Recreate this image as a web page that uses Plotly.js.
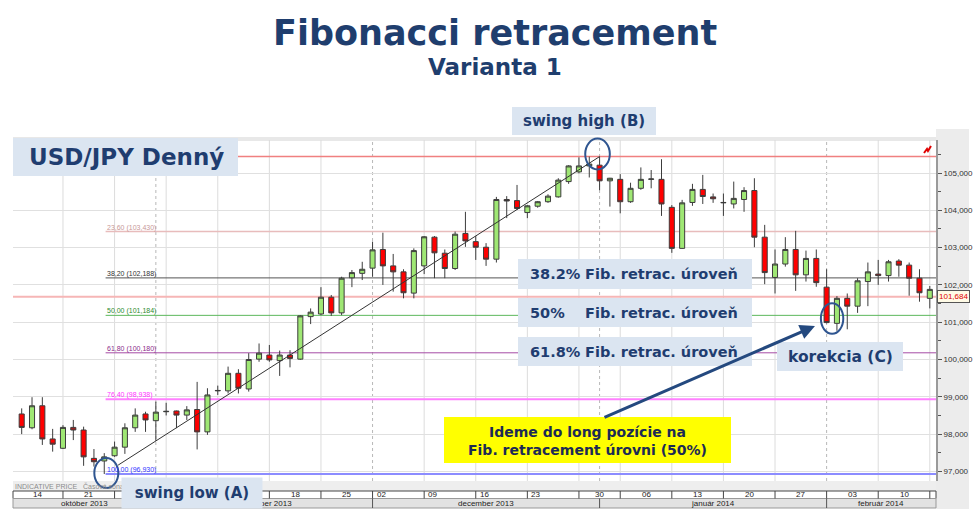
<!DOCTYPE html>
<html><head><meta charset="utf-8">
<script src="https://cdn.plot.ly/plotly-3.0.1.min.js"></script>
<style>html,body{margin:0;padding:0;background:#fff}#chart{width:977px;height:521px}</style>
</head><body><div id="chart"></div>
<script>
// ---------------- DATA ----------------
const dates = [
'2013-10-15','2013-10-16','2013-10-17','2013-10-18',
'2013-10-21','2013-10-22','2013-10-23','2013-10-24','2013-10-25',
'2013-10-28','2013-10-29','2013-10-30','2013-10-31','2013-11-01',
'2013-11-04','2013-11-05','2013-11-06','2013-11-07','2013-11-08',
'2013-11-11','2013-11-12','2013-11-13','2013-11-14','2013-11-15',
'2013-11-18','2013-11-19','2013-11-20','2013-11-21','2013-11-22',
'2013-11-25','2013-11-26','2013-11-27','2013-11-28','2013-11-29',
'2013-12-02','2013-12-03','2013-12-04','2013-12-05','2013-12-06',
'2013-12-09','2013-12-10','2013-12-11','2013-12-12','2013-12-13',
'2013-12-16','2013-12-17','2013-12-18','2013-12-19','2013-12-20',
'2013-12-23','2013-12-24','2013-12-25','2013-12-26','2013-12-27',
'2013-12-30','2013-12-31','2014-01-02','2014-01-03',
'2014-01-06','2014-01-07','2014-01-08','2014-01-09','2014-01-10',
'2014-01-13','2014-01-14','2014-01-15','2014-01-16','2014-01-17',
'2014-01-20','2014-01-21','2014-01-22','2014-01-23','2014-01-24',
'2014-01-27','2014-01-28','2014-01-29','2014-01-30','2014-01-31',
'2014-02-03','2014-02-04','2014-02-05','2014-02-06','2014-02-07',
'2014-02-10','2014-02-11','2014-02-12','2014-02-13','2014-02-14',
'2014-02-17'];

const openP = [
98.54,98.17,98.76,97.87,97.62,98.18,98.11,97.35,97.28,97.42,
97.65,98.17,98.54,98.36,98.60,98.62,98.51,98.66,98.06,99.16,
99.16,99.63,99.21,100.01,100.12,99.97,100.12,100.01,101.15,101.22,
101.67,101.25,102.19,102.31,102.45,102.95,102.51,102.35,101.78,102.51,
103.28,102.85,102.44,103.38,103.16,103.01,102.69,104.29,104.26,103.94,
104.11,104.23,104.36,104.77,105.03,105.19,105.21,104.79,104.83,104.23,
104.59,104.83,104.83,104.08,102.98,104.21,104.56,104.36,104.20,104.17,
104.29,104.53,103.28,102.20,102.56,102.95,102.27,102.71,101.94,100.97,
101.64,101.43,102.09,102.29,102.25,102.64,102.53,102.18,101.64];

const highP = [
98.69,98.99,98.99,98.14,98.24,98.38,98.20,97.60,97.49,97.80,
98.29,98.69,98.60,98.87,98.84,98.63,98.75,99.40,99.23,99.30,
99.81,99.74,100.17,100.43,100.39,100.24,100.25,101.19,101.37,101.94,
101.73,102.22,102.40,102.62,103.16,103.40,102.83,102.42,102.98,103.31,
103.31,102.95,103.43,103.96,103.31,103.12,104.36,104.38,104.68,104.14,
104.25,104.43,104.86,105.21,105.42,105.44,105.44,104.87,104.97,104.74,
105.15,105.08,105.37,104.14,104.28,104.71,104.95,104.45,104.45,104.77,
104.62,104.86,103.61,102.95,103.28,103.45,102.92,102.95,102.42,101.70,
101.77,102.18,102.60,102.67,102.67,102.69,102.60,102.42,101.97];

const lowP = [
98.00,98.13,97.71,97.53,97.60,97.84,97.15,97.13,96.93,97.39,
97.47,98.06,98.06,97.82,98.50,98.16,98.38,97.59,97.98,99.05,
99.09,99.09,99.14,99.94,99.94,99.56,99.79,99.99,100.95,101.19,
101.17,101.19,101.94,102.13,102.22,102.00,101.82,101.64,101.64,102.29,
102.18,102.18,102.40,103.02,102.67,102.51,102.60,103.79,104.01,103.79,
104.07,104.20,104.34,104.71,104.99,104.88,104.54,104.10,103.92,104.20,
104.55,104.59,103.85,102.86,102.97,104.12,104.17,104.20,103.85,104.05,
103.96,103.01,102.02,101.77,102.49,101.84,102.09,101.95,100.97,100.77,
100.81,101.25,101.43,102.00,102.09,102.22,101.71,101.55,101.37];

const closeP = [
98.18,98.76,97.87,97.73,98.18,98.11,97.39,97.26,97.39,97.65,
98.17,98.51,98.38,98.59,98.61,98.51,98.65,98.06,99.05,99.17,
99.63,99.23,100.00,100.17,99.99,100.12,100.03,101.17,101.27,101.67,
101.25,102.18,102.33,102.42,102.94,102.51,102.35,101.79,102.92,103.29,
102.86,102.44,103.36,103.18,103.01,102.69,104.29,104.25,104.05,104.12,
104.23,104.38,104.81,105.19,105.19,105.24,104.79,104.86,104.23,104.59,
104.83,104.84,104.17,102.98,104.20,104.56,104.37,104.31,104.21,104.32,
104.53,103.28,102.33,102.56,102.95,102.27,102.71,102.06,100.99,101.64,
101.43,102.11,102.35,102.25,102.62,102.53,102.18,101.79,101.88];

const fibPct   = [0, 23.6, 38.2, 50, 61.8, 76.4, 100];
const fibPrice = [105.44, 103.430, 102.188, 101.184, 100.180, 98.938, 96.930];
const lastPrice = 101.684;
const swingLowIdx = 8, swingHighIdx = 56, correctionIdx = 79;

const yTickVals = [97, 98, 99, 100, 101, 102, 103, 104, 105];
const dayTicks = ['14','21','28','04','11','18','25','02','09','16','23','30','06','13','20','27','03','10'];
const monthTicks = ['október 2013','november 2013','december 2013','január 2014','február 2014'];

const title = 'Fibonacci retracement';
const subtitle = 'Varianta 1';

// ---------------- STYLE / GEOMETRY ----------------
const X0 = -0.843, X1 = 88.6, Y0 = 96.743, Y1 = 105.885;
const L = 13, R = 936, T = 140, B = 481;
const PX = x => (x - L) / (R - L);
const PY = y => (B - y) / (B - T);
const ix = i => (i - X0) / (X1 - X0);
const iy = p => (p - Y0) / (Y1 - Y0);
const navy = '#1f3d70';
const boxFill = '#dbe5f1';
const fibLineCol = ['#f08080', '#e8bcbc', '#555555', '#5cb85c', '#a64ca6', '#ff80ff', '#8c8cff'];
const fibLineW   = [1.5, 1.5, 1, 1, 1, 2, 2];
const fibTextCol = ['#d06060', '#c89898', '#333333', '#2e8b2e', '#8b2a8b', '#ff33ff', '#3333ff'];
const dayAlign = ['c','c','c','c','c','c','c','l','l','l','l','c','c','c','c','c','c','c'];

// derived from the dates
const dObj = dates.map(d => new Date(d + 'T00:00:00Z'));
const mondays = [], monthStarts = [];
dObj.forEach((d, i) => {
  if (d.getUTCDay() === 1) mondays.push(i);
  if (i > 0 && d.getUTCMonth() !== dObj[i-1].getUTCMonth()) monthStarts.push(i);
});

const shapes = [];
const annotations = [];

// right axis grey panel
shapes.push({type:'rect', xref:'paper', yref:'paper', x0:PX(936), x1:PX(969), y0:PY(509), y1:PY(129),
  fillcolor:'#ececec', line:{width:0}, layer:'below'});
// top shading strip of chart
shapes.push({type:'rect', xref:'paper', yref:'paper', x0:PX(13), x1:PX(936), y0:PY(141), y1:PY(137),
  fillcolor:'#e8e8e8', line:{width:0}, layer:'below'});

// weekly / monthly vertical gridlines
mondays.forEach(i => {
  if (monthStarts.includes(i)) return;
  shapes.push({type:'line', xref:'x', yref:'y', x0:i, x1:i, y0:Y0, y1:Y1, line:{color:'#dcdcdc', width:1}, layer:'below'});
});
monthStarts.forEach(i => {
  shapes.push({type:'line', xref:'x', yref:'y', x0:i, x1:i, y0:Y0, y1:Y1, line:{color:'#b8b8b8', width:1, dash:'dot'}, layer:'below'});
});

// current price line
shapes.push({type:'line', xref:'x', yref:'y', x0:X0, x1:X1, y0:lastPrice, y1:lastPrice, line:{color:'#f6b6b6', width:2}, layer:'below'});

// fibonacci levels
const fibStart = swingLowIdx + 0.13;
fibPct.forEach((p, k) => {
  shapes.push({type:'line', xref:'x', yref:'y', x0:fibStart, x1:X1, y0:fibPrice[k], y1:fibPrice[k],
    line:{color:fibLineCol[k], width:fibLineW[k]}, layer:'below'});
  if (p === 0) return;
  annotations.push({xref:'x', yref:'y', x:fibStart, y:fibPrice[k], xanchor:'left', yanchor:'bottom',
    text: p.toFixed(2).replace('.', ',') + ' (' + fibPrice[k].toFixed(3).replace('.', ',') + ')',
    showarrow:false, font:{family:'Liberation Sans', size:7, color:fibTextCol[k]}, borderpad:0, yshift:-1});
});

// A -> B line (starts at edge of the swing-low circle)
const aI = swingLowIdx, aP = lowP[swingLowIdx], bI = swingHighIdx, bP = highP[swingHighIdx];
const t0 = 0.028;
shapes.push({type:'line', xref:'x', yref:'y', x0:aI + (bI - aI) * t0, y0:aP + (bP - aP) * t0, x1:bI, y1:bP,
  line:{color:'#333', width:1}, layer:'above'});

// circles round the swing points (paper refs so they are not clipped)
function circ(i, p, rx, ry) {
  const cx = ix(i), cy = iy(p), wx = rx / (R - L), wy = ry / (B - T);
  shapes.push({type:'circle', xref:'paper', yref:'paper', x0:cx - wx, x1:cx + wx, y0:cy - wy, y1:cy + wy,
    line:{color:'#2f5590', width:2}, fillcolor:'rgba(0,0,0,0)', layer:'above'});
}
circ(swingLowIdx + 0.2, lowP[swingLowIdx] + 0.03, 12, 15);
circ(swingHighIdx - 0.2, highP[swingHighIdx] + 0.07, 12.3, 15.5);
circ(correctionIdx - 0.47, lowP[correctionIdx] + 0.33, 11.2, 15.3);

// small red marker at top right
shapes.push({type:'path', xref:'paper', yref:'paper', layer:'above',
  path:`M ${PX(924)},${PY(153)} L ${PX(927)},${PY(149)} L ${PX(928)},${PY(151)} L ${PX(931)},${PY(146)}`,
  line:{color:'#e00000', width:2}});

// x-axis strips below the plot
shapes.push({type:'rect', xref:'paper', yref:'paper', x0:PX(13), x1:PX(936), y0:PY(491), y1:PY(481),
  fillcolor:'#eeeeee', line:{width:0}, layer:'below'});
shapes.push({type:'rect', xref:'paper', yref:'paper', x0:PX(13), x1:PX(936), y0:PY(498.5), y1:PY(491),
  fillcolor:'#ffffff', line:{color:'#444', width:1}, layer:'below'});
shapes.push({type:'rect', xref:'paper', yref:'paper', x0:PX(13), x1:PX(936), y0:PY(508), y1:PY(498.5),
  fillcolor:'#e2e2e2', line:{color:'#999', width:1}, layer:'below'});
const weekCells = [-1].concat(mondays);
weekCells.forEach((s, k) => {
  if (s > X0) shapes.push({type:'line', xref:'paper', yref:'paper', x0:ix(s), x1:ix(s), y0:PY(498.5), y1:PY(491),
    line:{color:'#444', width:1}, layer:'below'});
  if (k < dayTicks.length) {
    const e = weekCells[k + 1];
    const a = Math.max(ix(s), 0), b = ix(e);
    const left = dayAlign[k] === 'l';
    annotations.push({xref:'paper', yref:'paper', x: left ? a + 3 / (R - L) : (a + b) / 2, y:PY(494.8),
      xanchor: left ? 'left' : 'center', yanchor:'middle', text:dayTicks[k], showarrow:false,
      font:{family:'Liberation Sans', size:8, color:'#222'}, borderpad:0});
  }
});
const monthCells = [X0].concat(monthStarts).concat([X1]);
monthStarts.forEach(i => {
  shapes.push({type:'line', xref:'paper', yref:'paper', x0:ix(i), x1:ix(i), y0:PY(508), y1:PY(498.5),
    line:{color:'#555', width:1}, layer:'below'});
});
monthTicks.forEach((m, k) => {
  const a = ix(monthCells[k]), b = ix(monthCells[k + 1]);
  annotations.push({xref:'paper', yref:'paper', x:(a + b) / 2, y:PY(503.6), xanchor:'center', yanchor:'middle',
    text:m, showarrow:false, font:{family:'Liberation Sans', size:8, color:'#222'}, borderpad:0});
});
annotations.push({xref:'paper', yref:'paper', x:PX(14), y:PY(486.5), xanchor:'left', yanchor:'middle',
  text:'INDICATIVE PRICE   Časová zóna: Belgrade', showarrow:false,
  font:{family:'Liberation Sans', size:7, color:'#8c8c8c'}, borderpad:0});

// current price tag
annotations.push({xref:'paper', yref:'y', x:PX(937), y:lastPrice, xanchor:'left', yanchor:'middle',
  text:lastPrice.toFixed(3).replace('.', ','), showarrow:false, bgcolor:'#fffbe6', bordercolor:'#555',
  borderwidth:1, borderpad:1, font:{family:'Liberation Sans', size:8, color:'#e00000'}});

// label boxes
function box(x0, x1, y0, y1, fill) {
  shapes.push({type:'rect', xref:'paper', yref:'paper', x0:PX(x0), x1:PX(x1), y0:PY(y1), y1:PY(y0),
    fillcolor:fill, line:{width:0}, layer:'above'});
}
function txt(text, x, y, size, opts) {
  annotations.push(Object.assign({xref:'paper', yref:'paper', x:PX(x), y:PY(y), text:text, showarrow:false,
    xanchor:'center', yanchor:'middle', borderpad:0,
    font:{family:'DejaVu Sans', size:size, color:navy}}, opts || {}));
}
// annotation with its own background (covers the axis labels beneath it)
function boxTxt(text, x0, x1, y0, y1, size) {
  annotations.push({xref:'paper', yref:'paper', x:PX((x0 + x1) / 2), y:PY((y0 + y1) / 2), text:text,
    showarrow:false, xanchor:'center', yanchor:'middle', width:x1 - x0, height:y1 - y0, borderpad:0,
    bgcolor:boxFill, align:'center', valign:'middle', font:{family:'DejaVu Sans', size:size, color:navy}});
}
box(13, 238, 138, 176, boxFill);   txt('<b>USD/JPY Denný</b>', 126, 157, 23);
box(512, 656, 107, 135, boxFill);  txt('<b>swing high (B)</b>', 584, 121, 15);
box(518, 752, 259, 289, boxFill);
box(518, 752, 298, 327, boxFill);
box(518, 752, 337, 366, boxFill);
[['38.2%', 273.5], ['50%', 313], ['61.8%', 351.5]].forEach(([p, y]) => {
  txt('<b>' + p + '</b>', 529, y, 14.5, {xanchor:'left'});
  txt('<b>Fib. retrac. úroveň</b>', 584, y, 14.5, {xanchor:'left'});
});
box(777, 903, 342, 371, boxFill);  txt('<b>korekcia (C)</b>', 840, 356.5, 15.5);
boxTxt('<b>swing low (A)</b>', 122, 262, 478, 508, 15);
box(444, 731, 417, 463, '#ffff00');
txt('<b>Ideme do long pozície na<br>Fib. retracement úrovni (50%)</b>', 587.5, 440.5, 14, {font:{family:'DejaVu Sans', size:14, color:'#1c2a55'}});

// arrow to correction
annotations.push({xref:'paper', yref:'paper', x:PX(815), y:PY(326), ax:603 - 815, ay:418 - 326, text:'',
  showarrow:true, arrowhead:2, arrowsize:1, arrowwidth:3, arrowcolor:'#24497f', standoff:0});

// titles
txt('<b>' + title + '</b>', 495, 33, 35, {font:{family:'DejaVu Sans', size:35, color:'#1f3e6e'}});
txt('<b>' + subtitle + '</b>', 495, 67, 23, {font:{family:'DejaVu Sans', size:23, color:'#1f3e6e'}});

// ---------------- PLOT ----------------
const trace = {
  type:'candlestick', x:dates, open:openP, high:highP, low:lowP, close:closeP,
  increasing:{line:{color:'#3c3c3c', width:1}, fillcolor:'#9fe774'},
  decreasing:{line:{color:'#3c3c3c', width:1}, fillcolor:'#ff0000'},
  whiskerwidth:0, hoverinfo:'skip', showlegend:false
};

const layout = {
  width:977, height:521,
  margin:{l:L, r:977 - R, t:T, b:521 - B, pad:0},
  paper_bgcolor:'#ffffff', plot_bgcolor:'#ffffff',
  separators:',.',
  showlegend:false, hovermode:false,
  xaxis:{type:'category', range:[X0, X1], showticklabels:false, showgrid:false, zeroline:false,
    showline:false, ticks:'', rangeslider:{visible:false}, fixedrange:true},
  yaxis:{side:'right', range:[Y0, Y1], tickvals:yTickVals, tickformat:'.3f', showgrid:true, gridcolor:'#e0e0e0',
    zeroline:false, showline:true, linecolor:'#9a9a9a', linewidth:2, ticks:'outside', ticklen:4, tickcolor:'#555',
    minor:{dtick:0.5, ticks:'outside', ticklen:3, tickcolor:'#555', showgrid:false},
    tickfont:{family:'Liberation Sans', size:8, color:'#333'}, fixedrange:true},
  shapes:shapes, annotations:annotations
};

Plotly.newPlot('chart', [trace], layout, {staticPlot:true, displayModeBar:false});
</script></body></html>
